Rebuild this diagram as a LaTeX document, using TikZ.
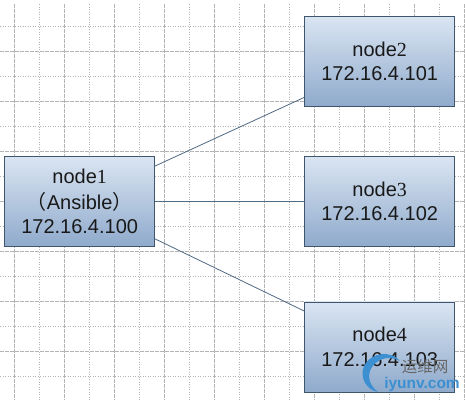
\documentclass[tikz,border=0pt]{standalone}
\usepackage{fontspec}
\setmainfont{Liberation Sans}
\newfontfamily\digitfont{Liberation Serif}
\newfontfamily\cjkfont{Noto Sans CJK SC}
\usetikzlibrary{calc}
\definecolor{boxtop}{HTML}{DAE5F2}
\definecolor{boxbot}{HTML}{8FAACC}
\definecolor{boxedge}{HTML}{3F566E}
\definecolor{linkc}{HTML}{4F6B84}
\definecolor{gridc}{HTML}{B4B4B4}
\definecolor{wmblue}{HTML}{3C8FD0}
\tikzset{
  hostbox/.style={draw=boxedge,line width=0.9pt,top color=boxtop,bottom color=boxbot,
    minimum width=150pt,minimum height=90pt,inner sep=0pt,anchor=north west,
    align=center,font=\fontsize{20}{24.5}\selectfont,text=black!90},
  link/.style={draw=linkc,line width=0.8pt},
  minorgrid/.style={draw=gridc,line width=0.7pt,dash pattern=on 1pt off 1.5pt},
  majorgrid/.style={draw=gridc,line width=0.8pt,dash pattern=on 3.5pt off 1.5pt},
}
\begin{document}
\begin{tikzpicture}[x=1pt,y=-1pt]
\useasboundingbox (0,0) rectangle (465,400);
\fill[white] (0,0) rectangle (465,400);
\foreach \i in {0,...,18}{
  \pgfmathsetmacro{\xx}{14.3+25*\i}
  \pgfmathtruncatemacro{\m}{mod(\i,2)}
  \ifnum\m=0 \draw[majorgrid] (\xx,4) -- (\xx,400); \else \draw[minorgrid] (\xx,4) -- (\xx,400); \fi
}
\foreach \i in {0,...,14}{
  \pgfmathsetmacro{\yy}{26.3+25*\i}
  \pgfmathtruncatemacro{\m}{mod(\i,2)}
  \ifnum\m=1 \draw[majorgrid] (0,\yy) -- (465,\yy); \else \draw[minorgrid] (0,\yy) -- (465,\yy); \fi
}
\node[hostbox] (n1) at (4.2,156) {node{\digitfont 1}\\[1.5pt]{\cjkfont （}Ansible{\cjkfont ）}\\[0pt]172.16.4.100};
\node[hostbox] (n2) at (304.2,16) {node{\digitfont 2}\\172.16.4.101};
\node[hostbox] (n3) at (304.2,156) {node{\digitfont 3}\\172.16.4.102};
\node[hostbox] (n4) at (304.2,301.5) {node{\digitfont 4}\\172.16.4.103};
\coordinate (a2) at ($(n1.north east)+(0,10)$);
\coordinate (b2) at ($(n2.south west)+(0,-9.5)$);
\coordinate (a4) at ($(n1.south east)+(0,-8)$);
\coordinate (b4) at ($(n4.north west)+(0,9.5)$);
\draw[link] (a2) -- (b2);
\draw[link] (n1.east) -- (n3.west);
\draw[link] (a4) -- (b4);
% watermark
\fill[wmblue] (400,361) .. controls (392,351) and (372,351) .. (364,366) .. controls (359,378) and (367,390) .. (378,392) .. controls (370,386) and (366,376) .. (372,367) .. controls (379,357) and (391,356) .. cycle;
\node[text=black!60,font=\cjkfont\fontsize{15.5}{15.5}\selectfont,inner sep=0pt] (wm1) at (425,367) {运维网};
\node[text=wmblue,font=\bfseries\fontsize{15.5}{15.5}\selectfont,inner sep=0pt] (wm2) at (422,384) {iyunv.com};
\end{tikzpicture}
\end{document}
